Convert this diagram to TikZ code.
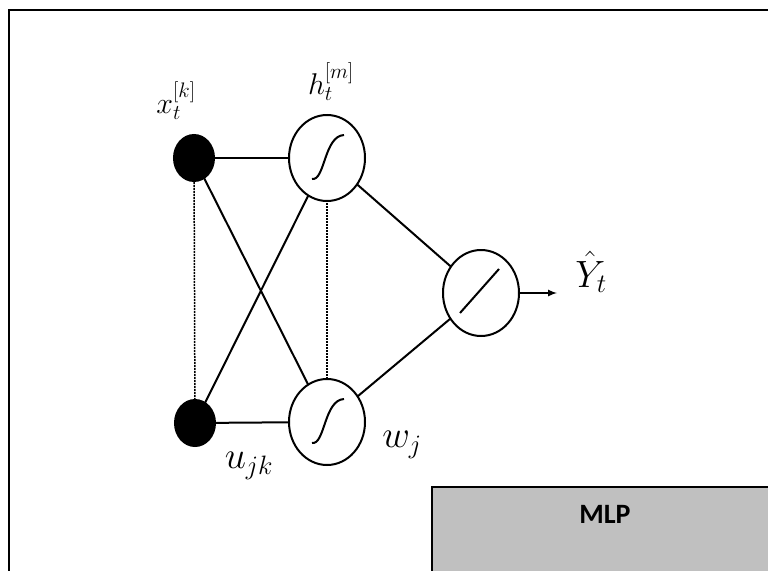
\RequirePackage{fix-cm}
\documentclass[tikz,border=0pt]{standalone}
\usepackage{amsmath}
\usepackage{fontspec}
\usepackage{tikz}
\usetikzlibrary{shapes.geometric}
\newfontfamily\boxfont{Carlito}

\begin{document}
\begin{tikzpicture}[x=1pt, y=-1pt, >=latex,
                    unit/.style={draw, ellipse, inner sep=0pt,
                                 minimum width=76pt, minimum height=86pt, fill=white},
                    inputunit/.style={draw, ellipse, fill=black, inner sep=0pt,
                                      minimum width=40pt, minimum height=46pt},
                    lab/.style={inner sep=0pt},
                    every path/.style={line width=2pt}]
\useasboundingbox (0,0) rectangle (768,570);
\draw[line width=2.4pt] (9,10) rectangle (800,600);
\draw[fill={rgb,255:red,192;green,192;blue,192}, line width=2.4pt] (432,487) rectangle (800,600);
\node[font=\boxfont\bfseries\fontsize{28}{32}\selectfont] (mlp) at (605,514) {MLP};
% connections first, units on top
\coordinate (xt) at (194,158);
\coordinate (xb) at (195,423);
\coordinate (ht) at (327,158);
\coordinate (hb) at (327,422);
\coordinate (yo) at (481,293);
\draw (xt) -- (ht);
\draw (xt) -- (hb);
\draw (xb) -- (ht);
\draw (xb) -- (hb);
\draw (ht) -- (yo);
\draw (hb) -- (yo);
\draw[densely dotted, line width=1.5pt] (xt) -- (xb);
\draw[densely dotted, line width=1.5pt] (ht) -- (hb);
\node[inputunit] (xtop) at (xt) {};
\node[inputunit] (xbot) at (xb) {};
\node[unit] (htop) at (ht) {};
\node[unit] (hbot) at (hb) {};
\node[unit] (yout) at (yo) {};
% activation glyphs
\draw[shift={(htop.center)}] (-15,21) .. controls (-2,23) and (-3,-22) .. (17,-23);
\draw[shift={(hbot.center)}] (-15,21) .. controls (-2,23) and (-3,-22) .. (17,-23);
\draw[shift={(yout.center)}] (-21,20) -- (18,-24);
\coordinate (yend) at (557,293);
\draw[->] (yout) -- (yend);
% labels
\node[lab, font=\fontsize{30}{34}\selectfont] (xlab) at (176,101) {$x_t^{[k]}$};
\node[lab, font=\fontsize{30}{34}\selectfont] (hlab) at (331,82) {$h_t^{[m]}$};
\node[lab, font=\fontsize{38}{42}\selectfont] (ulab) at (249,466) {$u_{jk}$};
\node[lab, font=\fontsize{38}{42}\selectfont] (wlab) at (402,445) {$w_j$};
\node[lab, font=\fontsize{38}{42}\selectfont] (ylab) at (591,272) {$\hat{Y}_t$};
\end{tikzpicture}
\end{document}
